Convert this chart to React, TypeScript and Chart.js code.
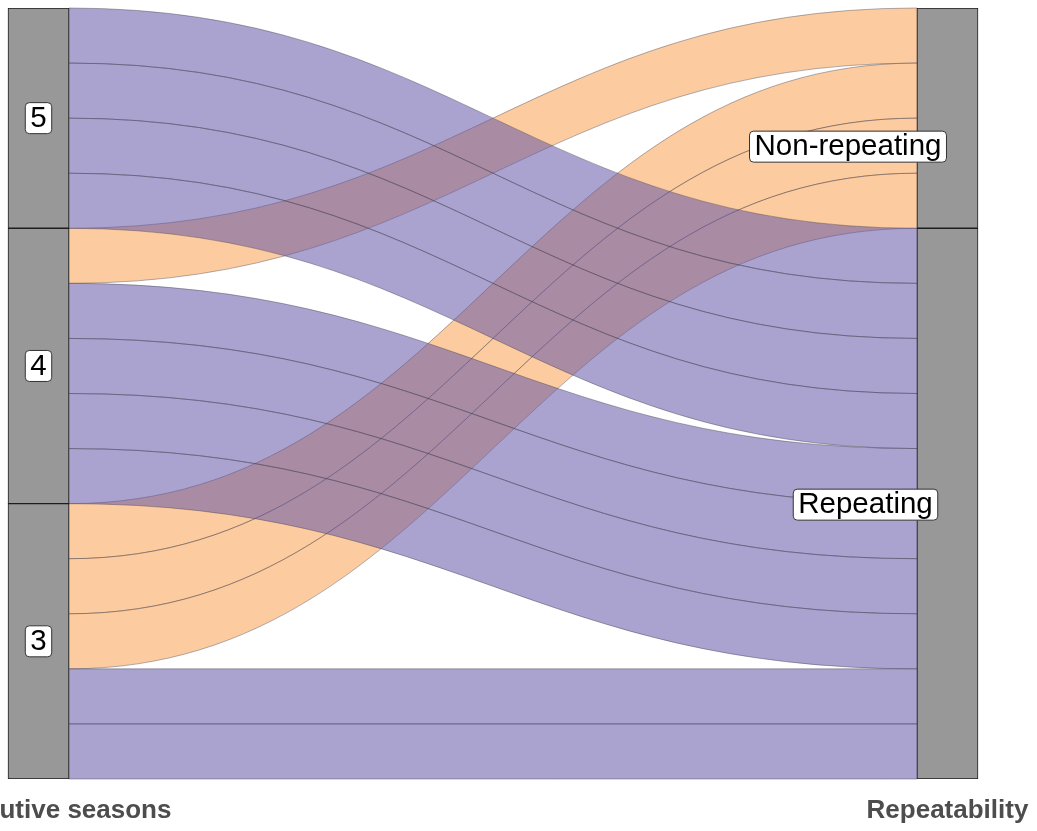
import React, { useEffect, useRef } from 'react';
import { Chart, registerables } from 'chart.js';

Chart.register(...registerables);

// ---- data ----
const axisTitles = ['Consecutive seasons', 'Repeatability'];
const leftStrata = ['5', '4', '3'];
const rightStrata = ['Non-repeating', 'Repeating'];
const flowFrom = ['5', '4', '4', '3', '3'];
const flowTo = ['Repeating', 'Non-repeating', 'Repeating', 'Non-repeating', 'Repeating'];
const flowCount = [4, 1, 4, 3, 2];

// ---- styles ----
const FONT = '"Liberation Sans", Arial, Helvetica, sans-serif';
const FILL: Record<string, string> = {
  'Non-repeating': 'rgba(251,160,82,0.55)',
  Repeating: 'rgba(100,88,168,0.55)',
};
const FLOW_LINE = 'rgba(60,60,72,0.4)';
const STRATUM_PX = 61;
const CURVE_K = 0.45;
const LABEL_OFFSET_PX: Record<string, [number, number]> = {
  'Non-repeating': [-99.5, 28.5],
  Repeating: [-82, 1],
};
const W = 1037;
const H = 831;
const X_MIN = 1 - 38.5 / 909;
const X_MAX = X_MIN + W / 909;

const total = flowCount.reduce((a, b) => a + b, 0);

function stack(strata: string[], key: string[]) {
  const res: Record<string, [number, number]> = {};
  let top = total;
  strata.forEach((s) => {
    const c = flowCount.reduce((a, v, i) => (key[i] === s ? a + v : a), 0);
    res[s] = [top - c, top];
    top -= c;
  });
  return res;
}

const leftRanges = stack(leftStrata, flowFrom);
const rightRanges = stack(rightStrata, flowTo);

// lode tops for each flow on each side
function lodeTops(strata: string[], own: string[], other: string[], otherOrder: string[]) {
  const tops: number[] = new Array(flowCount.length).fill(0);
  let top = total;
  strata.forEach((s) => {
    const idx = flowCount
      .map((_, i) => i)
      .filter((i) => own[i] === s)
      .sort((a, b) => otherOrder.indexOf(other[a]) - otherOrder.indexOf(other[b]));
    idx.forEach((i) => {
      tops[i] = top;
      top -= flowCount[i];
    });
  });
  return tops;
}

const leftTops = lodeTops(leftStrata, flowFrom, flowTo, rightStrata);
const rightTops = lodeTops(rightStrata, flowTo, flowFrom, leftStrata);

const strataPoints = [
  ...leftStrata.map((s) => ({ x: 1, y: leftRanges[s], label: s })),
  ...rightStrata.map((s) => ({ x: 2, y: rightRanges[s], label: s })),
];

function flowPath(ctx: CanvasRenderingContext2D, x0: number, x1: number, yl0: number, yl1: number, yr0: number, yr1: number) {
  const dx = x1 - x0;
  ctx.beginPath();
  ctx.moveTo(x0, yl0);
  ctx.bezierCurveTo(x0 + CURVE_K * dx, yl0, x1 - CURVE_K * dx, yr0, x1, yr0);
  ctx.lineTo(x1, yr1);
  ctx.bezierCurveTo(x1 - CURVE_K * dx, yr1, x0 + CURVE_K * dx, yl1, x0, yl1);
  ctx.closePath();
}

const flowsPlugin = {
  id: 'alluvia',
  beforeDatasetsDraw(chart: any) {
    const { ctx } = chart;
    const xs = chart.scales.x;
    const ys = chart.scales.y;
    const x0 = xs.getPixelForValue(1) + STRATUM_PX / 2;
    const x1 = xs.getPixelForValue(2) - STRATUM_PX / 2;
    const order = flowCount.map((_, i) => i).sort((a, b) => rightStrata.indexOf(flowTo[a]) - rightStrata.indexOf(flowTo[b]));
    ctx.save();
    order.forEach((i) => {
      for (let k = 0; k < flowCount[i]; k++) {
        const lt = leftTops[i] - k;
        const rt = rightTops[i] - k;
        flowPath(ctx, x0, x1, ys.getPixelForValue(lt), ys.getPixelForValue(lt - 1), ys.getPixelForValue(rt), ys.getPixelForValue(rt - 1));
        ctx.fillStyle = FILL[flowTo[i]];
        ctx.fill();
        ctx.strokeStyle = FLOW_LINE;
        ctx.lineWidth = 1;
        ctx.stroke();
      }
    });
    ctx.restore();
  },
};

function drawLabel(ctx: CanvasRenderingContext2D, text: string, cx: number, cy: number) {
  ctx.font = `29.5px ${FONT}`;
  const w = ctx.measureText(text).width;
  const bw = w + 10;
  const bh = 31;
  const x = cx - bw / 2;
  const y = cy - bh / 2;
  ctx.beginPath();
  if ((ctx as any).roundRect) (ctx as any).roundRect(x, y, bw, bh, 4);
  else ctx.rect(x, y, bw, bh);
  ctx.fillStyle = '#ffffff';
  ctx.fill();
  ctx.strokeStyle = '#333333';
  ctx.lineWidth = 1;
  ctx.stroke();
  ctx.fillStyle = '#000000';
  ctx.textAlign = 'center';
  ctx.textBaseline = 'middle';
  ctx.fillText(text, cx, cy + 0.5);
}

const labelsPlugin = {
  id: 'stratumLabels',
  afterDatasetsDraw(chart: any) {
    const { ctx } = chart;
    const xs = chart.scales.x;
    const ys = chart.scales.y;
    ctx.save();
    strataPoints.forEach((p) => {
      const off = LABEL_OFFSET_PX[p.label] || [0, 0];
      const cx = xs.getPixelForValue(p.x) + off[0];
      const cy = ys.getPixelForValue((p.y[0] + p.y[1]) / 2) + off[1];
      drawLabel(ctx, p.label, cx, cy);
    });
    ctx.restore();
  },
};

export default function App() {
  const ref = useRef<HTMLCanvasElement | null>(null);
  useEffect(() => {
    if (!ref.current) return;
    const chart = new Chart(ref.current, {
      type: 'bar',
      data: {
        datasets: [
          {
            label: 'strata',
            data: strataPoints as any,
            backgroundColor: '#989898',
            borderColor: '#1e1e1e',
            borderWidth: 1,
            borderSkipped: false,
            barThickness: STRATUM_PX,
            grouped: false,
          } as any,
        ],
      },
      options: {
        animation: false,
        responsive: false,
        devicePixelRatio: 1,
        layout: { padding: { top: 8, left: 0, right: 0, bottom: 0 }, autoPadding: false },
        plugins: { legend: { display: false }, tooltip: { enabled: false } },
        scales: {
          x: {
            type: 'linear',
            min: X_MIN,
            max: X_MAX,
            offset: false,
            grid: { display: false, drawTicks: false },
            border: { display: false },
            afterBuildTicks: (s: any) => {
              s.ticks = [{ value: 1 }, { value: 2 }];
            },
            afterFit: (s: any) => {
              s.height = 52;
              s.paddingLeft = 0;
              s.paddingRight = 0;
              s.paddingTop = 0;
              s.paddingBottom = 0;
            },
            ticks: {
              autoSkip: false,
              maxRotation: 0,
              minRotation: 0,
              padding: 16,
              color: '#4d4d4d',
              font: { family: FONT, size: 26, weight: 'bold' },
              callback: (v: any) => (v === 1 ? axisTitles[0] : v === 2 ? axisTitles[1] : ''),
            },
          },
          y: { type: 'linear', min: 0, max: total, display: false },
        },
      } as any,
      plugins: [flowsPlugin, labelsPlugin],
    });
    return () => chart.destroy();
  }, []);
  return (
    <div style={{ position: 'absolute', left: 0, top: 0, width: W, height: H }}>
      <canvas ref={ref} width={W} height={H} style={{ display: 'block', width: W, height: H }} />
    </div>
  );
}
